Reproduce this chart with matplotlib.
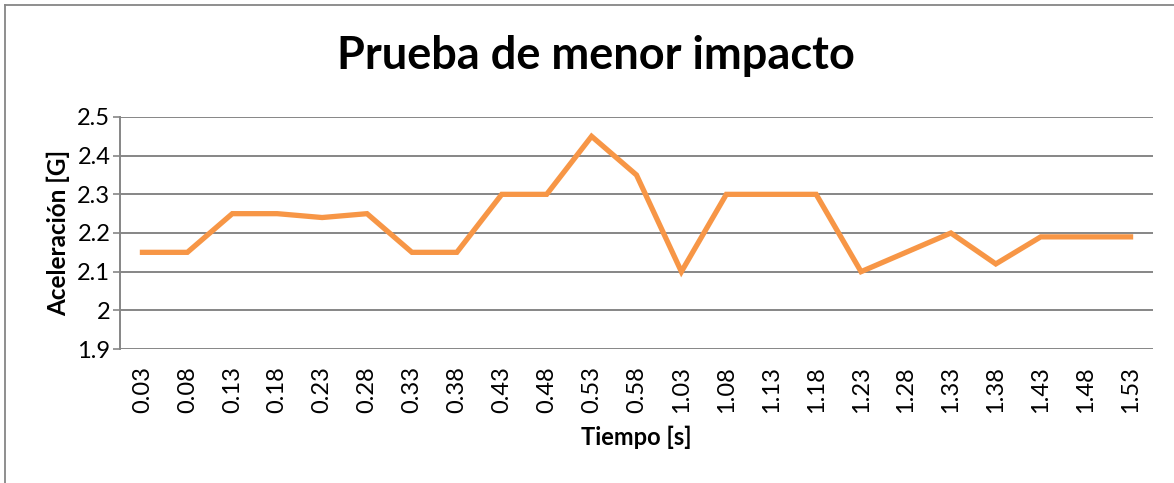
import matplotlib
matplotlib.use("Agg")
import matplotlib.pyplot as plt
from matplotlib.lines import Line2D

plt.rcParams['font.family'] = ['Lato', 'DejaVu Sans']

tiempos = ["0.03", "0.08", "0.13", "0.18", "0.23", "0.28", "0.33", "0.38",
           "0.43", "0.48", "0.53", "0.58", "1.03", "1.08", "1.13", "1.18",
           "1.23", "1.28", "1.33", "1.38", "1.43", "1.48", "1.53"]
aceleracion = [2.15, 2.15, 2.25, 2.25, 2.24, 2.25, 2.15, 2.15,
               2.30, 2.30, 2.45, 2.35, 2.10, 2.30, 2.30, 2.30,
               2.10, 2.15, 2.20, 2.12, 2.19, 2.19, 2.19]
yticks = [1.9, 2.0, 2.1, 2.2, 2.3, 2.4, 2.5]
yticklabels = ["1.9", "2", "2.1", "2.2", "2.3", "2.4", "2.5"]

W, H = 1174, 483
fig = plt.figure(figsize=(W / 100, H / 100), dpi=100)
ax = fig.add_axes([120 / W, 1 - 349 / H, (1153 - 120) / W, (349 - 117) / H])

x = list(range(len(tiempos)))
ax.plot(x, aceleracion, color='#F79646', linewidth=3.8, solid_joinstyle='miter')

ax.set_xlim(-0.5, len(tiempos) - 0.5)
ax.set_ylim(1.9, 2.5)
ax.set_yticks(yticks)
ax.set_yticklabels(yticklabels, fontsize=17)
ax.set_xticks(x)
ax.set_xticklabels(tiempos, rotation=90, fontsize=17)
ax.tick_params(axis='x', length=0, pad=12.5)
ax.tick_params(axis='y', length=5, color='#868686', width=1.2, pad=2)
ax.grid(axis='y', color='#868686', linewidth=1.4)
ax.set_axisbelow(True)
for s in ['top', 'right', 'bottom']:
    ax.spines[s].set_visible(False)
ax.spines['left'].set_color('#868686')
ax.spines['left'].set_linewidth(1.4)

ax.set_ylabel("Aceleración [G]", fontsize=17.5, fontweight='bold', labelpad=5)
ax.set_xlabel("Tiempo [s]", fontsize=17, fontweight='bold', labelpad=9)
fig.text(596 / W, 1 - 69 / H, "Prueba de menor impacto", fontsize=32.5,
         fontweight='bold', ha='center', va='baseline')

# chart border
fig.add_artist(Line2D([5 / W, 5 / W], [0, 1 - 5 / H], transform=fig.transFigure,
                      color='#868686', linewidth=1.3))
fig.add_artist(Line2D([5 / W, 1], [1 - 5 / H, 1 - 5 / H], transform=fig.transFigure,
                      color='#868686', linewidth=1.3))

fig.savefig("out.png", dpi=100)
